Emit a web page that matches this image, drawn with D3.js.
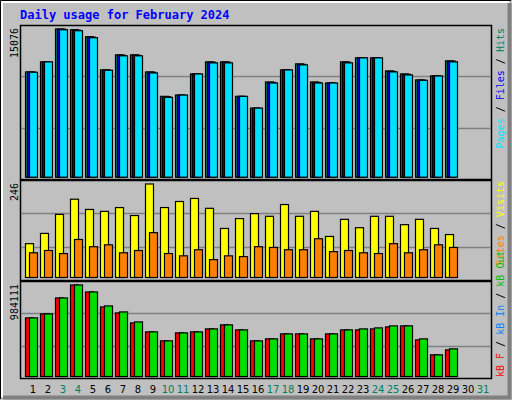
<!DOCTYPE html>
<html>
<meta charset="utf-8">
<head><title>Daily usage</title></head>
<style>
  body { margin: 0; background: #fff; }
  text { font-family: "DejaVu Sans Mono", monospace; }
</style>
<script src="https://d3js.org/d3.v7.min.js"></script>
<body>
<div id="chart"></div>
<script>
// Data
var days = d3.range(1, 32);
var weekend = [3, 4, 10, 11, 17, 18, 24, 25, 31];
var hits  = [10709,11732,15076,15004,14289,10913,12448,12448,10709,8223,8356,10504,11732,11732,8223,7027,9686,10913,11527,9686,9584,11732,12141,12141,10811,10504,9890,10300,11834];
var files = [10690,11720,15060,14950,14240,10900,12400,12400,10680,8200,8350,10500,11700,11700,8220,7020,9640,10910,11480,9640,9584,11700,12141,12141,10760,10460,9880,10300,11800];
var pages = [10678,11732,15000,14900,14187,10879,12346,12346,10607,8121,8356,10504,11630,11630,8223,7027,9584,10913,11425,9584,9584,11630,12141,12141,10709,10402,9856,10300,11732];
var visits = [89,116,166,206,179,174,184,163,246,184,200,208,182,129,155,168,161,192,161,174,108,153,131,161,161,139,153,129,113];
var sites  = [65,71,63,100,81,86,65,71,118,63,57,73,47,57,55,81,79,73,73,102,68,71,65,63,89,65,73,86,79];
var kbIn = [629968,672896,844608,984111,909000,758752,694360,587040,479720,383132,468988,479720,511916,554844,501184,383132,404596,458256,458256,404596,458256,501184,511916,522648,544112,544112,404596,232884,297276];
var kbF  = [629968,672896,844608,984111,909000,748020,683628,576308,479720,383132,468988,479720,511916,554844,501184,383132,404596,458256,458256,404596,458256,501184,501184,511916,533380,544112,393864,232884,286544];
var maxHits = 15076, maxVisits = 246, maxKB = 984111;

var W = 512, H = 400;
var svg = d3.select("#chart").append("svg").attr("width", W).attr("height", H);

// frame with bevel
svg.append("rect").attr("width", W).attr("height", H).attr("fill", "#c0c0c0");
svg.append("path").attr("d", "M0.5,399 V0.5 H511").attr("stroke", "#000").attr("fill", "none");
svg.append("path").attr("d", "M2,397 V2 H509").attr("stroke", "#fff").attr("stroke-width", 2).attr("fill", "none");
svg.append("path").attr("d", "M3,397.5 H509.5 V3").attr("stroke", "#808080").attr("stroke-width", 4).attr("fill", "none");

svg.append("text").attr("x", 20).attr("y", 19)
  .style("font-size", "12px").style("font-weight", "bold").attr("fill", "#0000ff")
  .text("Daily usage for February 2024");

var x = d3.scaleLinear().domain([1, 32]).range([25, 25 + 15 * 31]);

var panels = [
  { top: 25, bottom: 179, base: 176.7, max: maxHits, label: "15076",
    series: [ { v: hits, dx: 0, w: 8, c: "#00805c" }, { v: files, dx: 2, w: 8, c: "#0000ff" }, { v: pages, dx: 4, w: 8, c: "#00e0ff" } ],
    legend: [["Pages", "#00e0ff"], [" / ", "#000"], ["Files", "#0000ff"], [" / ", "#000"], ["Hits", "#00805c"]], anchor: "end", ly: 28 },
  { top: 180, bottom: 280, base: 277, max: maxVisits, label: "246",
    series: [ { v: visits, dx: 0, w: 8, c: "#ffff00" }, { v: sites, dx: 4, w: 8, c: "#ff8000" } ],
    legend: [["Sites", "#ff8000"], [" / ", "#000"], ["Visits", "#ffff00"]], anchor: "end", ly: 181 },
  { top: 281, bottom: 378, base: 376, max: maxKB, label: "984111",
    series: [ { v: kbF, dx: 0, w: 8, c: "#ff0000" }, { v: kbIn, dx: 4, w: 8, c: "#00e000" } ],
    legend: [["kB F", "#ff0000"], [" / ", "#000"], ["kB In", "#0080ff"], [" / ", "#000"], ["kB Out", "#00c000"]], anchor: "start", ly: 377 }
];

panels.forEach(function(p) {
  var g = svg.append("g");
  g.append("rect").attr("x", 20.5).attr("y", p.top + 0.5)
    .attr("width", 471).attr("height", p.bottom - p.top)
    .attr("fill", "#c0c0c0").attr("stroke", "#000").attr("stroke-width", 1.5);
  var h = p.bottom - p.top;
  [1, 2].forEach(function(k) {
    var gy = Math.round(p.top + h * k / 3) + 0.5;
    g.append("line").attr("x1", 21).attr("x2", 491).attr("y1", gy).attr("y2", gy)
      .attr("stroke", "#808080").attr("stroke-width", 1.5);
  });
  var topY = p.base - 147.4 * (p.base - p.top) / (176.7 - 25) * 0 ; // placeholder
  var y = d3.scaleLinear().domain([0, p.max]).range([p.base, p.top + 3.5]);
  p.series.forEach(function(s) {
    g.selectAll(null).data(s.v).enter().append("rect")
      .attr("x", function(d, i) { return x(i + 1) + s.dx + 0.5; })
      .attr("y", function(d) { return y(d) + 0.5; })
      .attr("width", s.w)
      .attr("height", function(d) { return p.base - y(d); })
      .attr("fill", s.c).attr("stroke", "#000").attr("stroke-width", 1.2);
  });
  g.append("text")
    .attr("transform", "translate(18," + (p.top + 3) + ") rotate(-90)")
    .attr("text-anchor", "end").style("font-size", "10px").attr("fill", "#000")
    .text(p.label);
  var lt = g.append("text")
    .attr("transform", "translate(504," + p.ly + ") rotate(-90)")
    .attr("text-anchor", p.anchor).style("font-size", "10px");
  p.legend.forEach(function(l) { lt.append("tspan").attr("fill", l[1]).text(l[0]); });
});

svg.selectAll(".day").data(days).enter().append("text")
  .attr("x", function(d) { return x(d) + 8; })
  .attr("y", 393)
  .attr("text-anchor", "middle")
  .style("font-family", "'DejaVu Sans', sans-serif").style("font-size", "10px")
  .attr("fill", function(d) { return weekend.indexOf(d) >= 0 ? "#00805c" : "#000"; })
  .text(function(d) { return d; });
</script>
</body>
</html>
